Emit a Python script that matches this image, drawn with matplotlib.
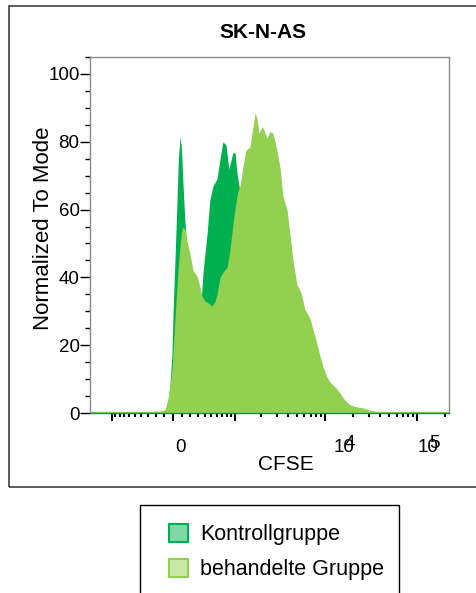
import numpy as np
import matplotlib
matplotlib.use("Agg")
import matplotlib.pyplot as plt
from matplotlib.patches import Patch, Rectangle

plt.rcParams["font.family"] = ["Liberation Sans", "DejaVu Sans"]

# histogram data, x in display channels (0..1024), y in % of mode
KONTROLL_CH = [0, 200, 214, 222, 228, 234, 237, 242, 248, 252, 257, 261, 265,
               271, 277, 285, 297, 308, 317, 322, 334, 342, 351, 362, 371,
               379, 388, 396, 408, 414, 419, 428, 439, 451, 471, 491, 513,
               542, 570, 599, 642, 1024]
KONTROLL_Y = [0.3, 0.3, 0.8, 3, 8, 18, 30, 44, 62, 75, 81.5, 78, 68,
              56, 48, 40, 34, 32, 33, 41, 53, 63, 67, 69, 75,
              80, 79, 72, 77, 76.5, 71, 65, 52, 40, 25, 15, 8,
              4, 2, 1, 0.5, 0.3]

BEHANDELT_CH = [0, 171, 200, 214, 222, 228, 234, 242, 251, 260, 265, 271,
                277, 285, 294, 305, 314, 319, 328, 337, 348, 357, 362, 371,
                379, 391, 399, 408, 416, 422, 428, 436, 445, 451, 456, 462,
                471, 476, 482, 491, 496, 505, 513, 522, 533, 542, 550, 562,
                570, 579, 590, 602, 613, 627, 642, 656, 665, 676, 684, 699,
                713, 727, 742, 761, 779, 799, 819, 1024]
BEHANDELT_Y = [0.5, 0.5, 0.6, 1.0, 4, 8, 13, 27, 42, 53, 55, 54,
               50.5, 47, 42, 40.5, 37, 34.5, 33, 32.5, 31.5, 33, 35, 40,
               41.5, 43, 48, 56, 62, 65.5, 67, 72.5, 77.5, 78, 78.5, 82.5,
               88.5, 87, 82.5, 84.5, 83.5, 81, 83, 82.5, 77.5, 72.5, 64, 60,
               53, 45, 38, 35.5, 30.5, 28, 22.5, 16.8, 13.6, 10.6, 9.2, 7.7,
               5.9, 3.8, 2.4, 1.8, 1.5, 0.8, 0.5, 0.5]

MAJOR_TICKS = [-1e3, 0, 1e3, 1e4, 1e5]
MINOR_TICKS = ([-900, -800, -700, -600, -500, -400, -300, -200, -100,
                100, 200, 300, 400, 500, 600, 700, 800, 900,
                2e3, 3e3, 4e3, 5e3, 6e3, 7e3, 8e3, 9e3,
                2e4, 3e4, 4e4, 5e4, 6e4, 7e4, 8e4, 9e4, 2e5])
TICK_LABELS = [(0, "0", None), (1e4, "10", "4"), (1e5, "10", "5")]

DARK = "#00B050"
LIGHT = "#92D050"


def to_channel(v, zero=237.0, k=114.1, w=450.0):
    """biexponential-like display transform (arcsinh) CFSE -> channel"""
    return zero + k * np.arcsinh(np.asarray(v, dtype=float) / w)


fig = plt.figure(figsize=(4.76, 5.93), dpi=100)
ax = fig.add_axes([90 / 476, 1 - 413 / 593, 359 / 476, 356 / 593])

ax.fill_between(KONTROLL_CH, KONTROLL_Y, 0, color=DARK, lw=0, zorder=1)
ax.fill_between(BEHANDELT_CH, BEHANDELT_Y, 0, color=LIGHT, lw=0, zorder=2)

ax.set_xlim(0, 1024)
ax.set_ylim(0, 105)

# y axis
ax.set_yticks([0, 20, 40, 60, 80, 100])
ax.set_yticks(np.arange(0, 106, 5), minor=True)
ax.tick_params(axis="y", which="major", length=7, width=1, pad=0.5,
               labelsize=13.5, direction="out")
ax.tick_params(axis="y", which="minor", length=3.6, width=1, direction="out")

# x axis
ax.set_xticks(to_channel(MAJOR_TICKS))
ax.set_xticklabels([""] * len(MAJOR_TICKS))
ax.set_xticks(to_channel(MINOR_TICKS), minor=True)
ax.tick_params(axis="x", which="major", length=6, width=1.5, direction="out")
ax.tick_params(axis="x", which="minor", length=3.2, width=1.5, direction="out")

label_dx = {0: 7, 1e4: 9, 1e5: 1}
for value, base, exp in TICK_LABELS:
    x = float(to_channel(value))
    if exp is None:
        ax.annotate(base, xy=(x, 0), xycoords=("data", "axes fraction"),
                    xytext=(label_dx[value], -34), textcoords="offset pixels",
                    ha="center", va="center", fontsize=13.5)
    else:
        ax.annotate(base, xy=(x, 0), xycoords=("data", "axes fraction"),
                    xytext=(label_dx[value], -34), textcoords="offset pixels",
                    ha="left", va="center", fontsize=13.5)
        ax.annotate(exp, xy=(x, 0), xycoords=("data", "axes fraction"),
                    xytext=(label_dx[value] + 11, -30), textcoords="offset pixels",
                    ha="left", va="center", fontsize=13.5)

for side in ("left", "top", "right"):
    ax.spines[side].set_color("#8c8c8c")
    ax.spines[side].set_linewidth(1)
ax.spines["bottom"].set_color("#1f8a4c")
ax.spines["bottom"].set_linewidth(1)

ax.set_ylabel("Normalized To Mode", fontsize=16)
ax.yaxis.set_label_coords(-0.1, 0.52)
ax.set_xlabel("CFSE", fontsize=15)
ax.xaxis.set_label_coords(0.546, -0.118)

fig.text(263 / 476, 1 - 32 / 593, "SK-N-AS", ha="center", va="center",
         fontsize=15, fontweight="bold")

# outer frame around the plot panel
fig.patches.append(Rectangle((9 / 476, 1 - 487 / 593), 1.0, 481 / 593,
                             transform=fig.transFigure, fill=False,
                             edgecolor="#404040", lw=1.2))

# legend box (bottom edge runs off the figure)
fig.patches.append(Rectangle((140 / 476, -0.02), 259 / 476, 0.02 + 1 - 505 / 593,
                             transform=fig.transFigure, fill=False,
                             edgecolor="black", lw=1))
handles = [
    Patch(facecolor="#80D8A8", edgecolor=DARK, lw=1.5, label="Kontrollgruppe"),
    Patch(facecolor="#C9E8A8", edgecolor=LIGHT, lw=1.5, label="behandelte Gruppe"),
]
fig.legend(handles=handles, loc="upper left",
           bbox_to_anchor=(169 / 476, 1 - 524 / 593), frameon=False,
           fontsize=15.5, handlelength=0.9, handleheight=0.9,
           handletextpad=0.55, labelspacing=0.62, borderpad=0,
           borderaxespad=0)

fig.savefig("out.png", dpi=100)
